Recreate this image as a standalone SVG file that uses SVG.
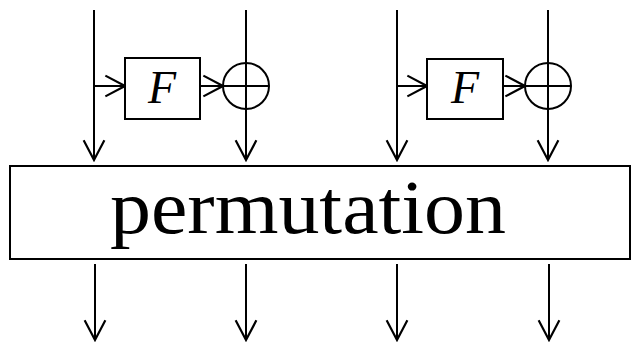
<svg xmlns="http://www.w3.org/2000/svg" width="632" height="342" viewBox="0 0 632 342">
<defs>
<marker id="ah" markerUnits="userSpaceOnUse" markerWidth="24" markerHeight="24" viewBox="-20 -11 22 22" refX="0" refY="0" orient="auto">
<path d="M-18,-9.5 L0,0 L-18,9.5" fill="none" stroke="#000" stroke-width="2"/>
</marker>
</defs>
<style>
.ln{stroke:#000;stroke-width:2;fill:none}
.bx{fill:#fff;stroke:#000;stroke-width:2}
.f{font-family:"Liberation Serif","DejaVu Serif",serif;font-style:italic;font-size:46px;fill:#000}
.p{font-family:"Liberation Serif","DejaVu Serif",serif;font-size:77px;fill:#000}
</style>
<g id="connectors">
<line class="ln" x1="94" y1="10" x2="94" y2="160" marker-end="url(#ah)"/>
<line class="ln" x1="246" y1="10" x2="246" y2="160" marker-end="url(#ah)"/>
<line class="ln" x1="397" y1="10" x2="397" y2="160" marker-end="url(#ah)"/>
<line class="ln" x1="548" y1="10" x2="548" y2="160" marker-end="url(#ah)"/>
<line class="ln" x1="94" y1="86" x2="125" y2="86" marker-end="url(#ah)"/>
<line class="ln" x1="200" y1="86" x2="223" y2="86" marker-end="url(#ah)"/>
<line class="ln" x1="397" y1="86" x2="427" y2="86" marker-end="url(#ah)"/>
<line class="ln" x1="503" y1="86" x2="525" y2="86" marker-end="url(#ah)"/>
<line class="ln" x1="95" y1="264" x2="95" y2="340" marker-end="url(#ah)"/>
<line class="ln" x1="246" y1="264" x2="246" y2="340" marker-end="url(#ah)"/>
<line class="ln" x1="397" y1="264" x2="397" y2="340" marker-end="url(#ah)"/>
<line class="ln" x1="549" y1="264" x2="549" y2="340" marker-end="url(#ah)"/>
</g>
<g id="F1">
<rect class="bx" x="125" y="58" width="75" height="61"/>
<text class="f" x="162" y="103" text-anchor="middle">F</text>
</g>
<g id="xor1">
<circle class="ln" cx="246" cy="86" r="23"/>
<line class="ln" x1="223" y1="86" x2="269" y2="86"/>
</g>
<g id="F2">
<rect class="bx" x="427" y="59" width="76" height="60"/>
<text class="f" x="465" y="103" text-anchor="middle">F</text>
</g>
<g id="xor2">
<circle class="ln" cx="548" cy="86" r="23"/>
<line class="ln" x1="525" y1="86" x2="571" y2="86"/>
</g>
<g id="permutation">
<rect class="bx" x="10" y="166" width="620" height="93"/>
<text class="p" x="308" y="233" text-anchor="middle" textLength="396" lengthAdjust="spacingAndGlyphs">permutation</text>
</g>
</svg>
